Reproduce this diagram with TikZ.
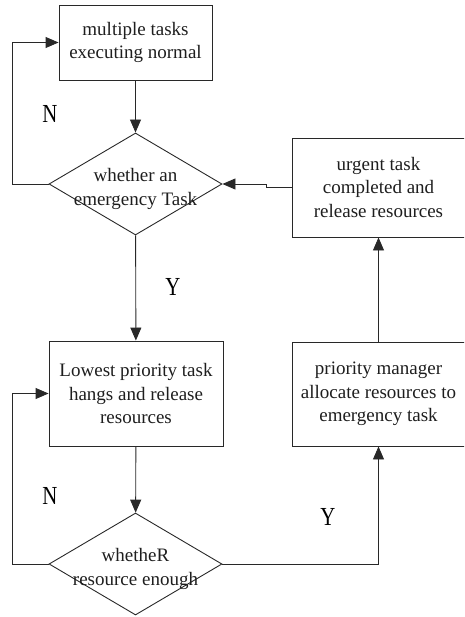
\documentclass[tikz,border=0pt]{standalone}
\usepackage{fontspec}
\usepackage{graphicx}
\setmainfont{Liberation Serif}
\usetikzlibrary{arrows.meta,shapes.geometric}
\begin{document}
\begin{tikzpicture}[x=1pt,y=-1pt,
  line width=0.9pt, draw={rgb,255:red,40;green,40;blue,40},
  textfont/.style={font=\fontsize{19}{23.5}\selectfont, text={rgb,255:red,30;green,30;blue,30}},
  stepbox/.style={draw, rectangle, inner sep=0pt, align=center, textfont},
  decision/.style={draw, diamond, inner sep=0pt,
    minimum width=173pt, minimum height=102pt},
  flow/.style={-{Triangle[length=13pt,width=11pt]}},
  branch/.style={font=\fontsize{26}{26}\selectfont}]
\useasboundingbox (0,0) rectangle (464,617);
\clip (0,0) rectangle (464,617);

% process boxes
\node[stepbox, minimum width=153pt, minimum height=75pt] (run) at (135.5,42.5)
  {multiple tasks\\executing normal};
\node[stepbox, minimum width=174pt, minimum height=105pt] (hang) at (136,393.5)
  {Lowest priority task\\hangs and release\\resources};
\node[stepbox, minimum width=173pt, minimum height=104pt] (alloc) at (378.5,394)
  {priority manager\\allocate resources to\\emergency task};
\node[stepbox, minimum width=173pt, minimum height=99pt] (done) at (378.5,187.5)
  {urgent task\\completed and\\release resources};

% decisions (text set separately so it may run over the outline)
\node[decision] (urgentq) at (135.5,184) {};
\node[textfont, align=center] (urgentqtxt) at (135.5,189)
  {whether an\\emergency Task};
\node[decision] (enoughq) at (135.5,564) {};
\node[textfont, align=center] (enoughqtxt) at (135.5,569)
  {whetheR\\resource enough};

% corner points of the connectors
\coordinate (loopA) at (12,184);
\coordinate (loopB) at (12,564);
\coordinate (jogA) at (266,187.5);
\coordinate (jogB) at (266,184);

% connectors
\draw[flow] (run) -- (urgentq);
\draw[flow] (urgentq.west) -- (loopA) |- (run.west);
\draw[flow] (urgentq) -- (hang);
\draw[flow] (hang) -- (enoughq);
\draw[flow] (enoughq.west) -- (loopB) |- (hang.west);
\draw[flow] (enoughq.east) -| (alloc.south);
\draw[flow] (alloc.north) -- (done.south);
\draw[flow] (done.west) -- (jogA) -- (jogB) -- (urgentq.east);

% branch labels
\node[branch] (n1) at (50,114) {\scalebox{0.8}[1]{N}};
\node[branch] (y1) at (173,287) {\scalebox{0.8}[1]{Y}};
\node[branch] (n2) at (50,496) {\scalebox{0.8}[1]{N}};
\node[branch] (y2) at (328,517) {\scalebox{0.8}[1]{Y}};
\end{tikzpicture}
\end{document}
